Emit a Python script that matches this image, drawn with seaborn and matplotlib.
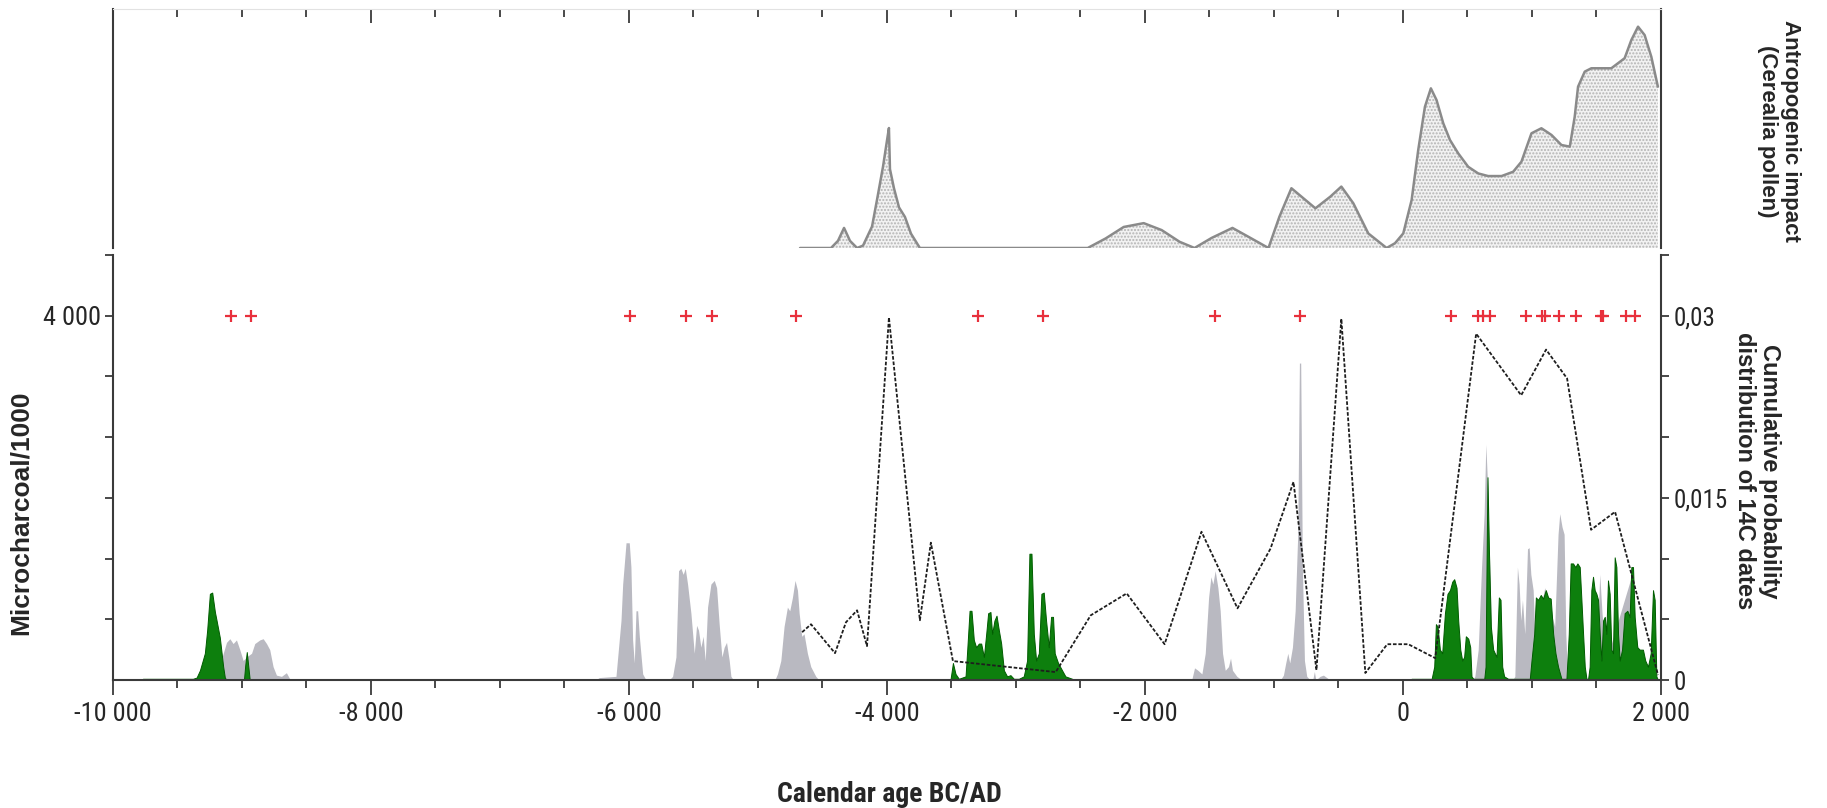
import matplotlib
matplotlib.use("Agg")
import matplotlib.pyplot as plt
from matplotlib import font_manager as fm
import seaborn as sns
from matplotlib.ticker import FixedLocator, MultipleLocator

# --- top panel: Cerealia pollen curve (relative units 0-100)
cereal_year = [-4674, -4434, -4380, -4333, -4287, -4232, -4186, -4116, -4078, -4031, -4000,
               -3985, -3977, -3946, -3907, -3861, -3814, -3745, -2444, -2305, -2165, -2010,
               -1871, -1732, -1616, -1484, -1322, -1182, -1043, -958, -865, -772, -679, -563,
               -478, -385, -269, -127, -62, 2, 67, 118, 170, 216, 260, 312, 364, 428, 505, 583,
               660, 764, 854, 918, 996, 1073, 1151, 1228, 1293, 1331, 1357, 1409, 1460, 1615,
               1718, 1770, 1822, 1873, 1925, 1976]
cereal_val = [0, 0, 3, 8.4, 3, 0, 1, 9, 20, 34, 45,
              50.2, 33, 25, 17, 13, 6, 0, 0, 4.0, 8.8, 10.4,
              7.5, 2.6, 0, 4.2, 8.4, 4.2, 0, 13.1, 25.0, 20.8, 16.6, 21.5,
              25.7, 18.7, 6.1, 0, 2.0, 6.1, 20.1, 41.0, 59.1, 66.8, 61.9, 52.2, 45.2, 39.6, 34.0, 31.2,
              30.1, 30.1, 31.9, 36.1, 48.0, 50.1, 47.3, 43.1, 42.4, 54.9, 67.5, 73.8, 75.2, 75.2,
              79.4, 87.0, 92.6, 89.1, 80.0, 67.5]

# --- bottom panel: 14C probability distributions (right axis)
gray_year = [-9200, -9185, -9120, -9094, -9069, -9043, -9017, -8991, -8965, -8926, -8901, -8862,
             -8836, -8810, -8785, -8759, -8733, -8694, -8656, -8630, -8604,
             -6260, -6230, -6101, -6062, -6049, -6023, -5998, -5985, -5972, -5959, -5946, -5933,
             -5920, -5894, -5868,
             -5690, -5662, -5636, -5616, -5598, -5580, -5564, -5546, -5520, -5494, -5476, -5461,
             -5443, -5425, -5409, -5391, -5365, -5339, -5321, -5301, -5280, -5262, -5244, -5223,
             -5210, -5190,
             -4870, -4849, -4823, -4798, -4772, -4754, -4733, -4713, -4694, -4681, -4661, -4643,
             -4617, -4591, -4552, -4527,
             -1660, -1636, -1616, -1590, -1559, -1533, -1507, -1489, -1474, -1456, -1435, -1417,
             -1399, -1378, -1353, -1337, -1322, -1288, -1249,
             -950, -927, -909, -893, -878, -857, -836, -816, -803, -793, -780, -764, -746, -720,
             -700, -687, -676, -643, -617, -578, -527,
             540, 557, 583, 609, 629, 642, 653, 666, 686, 712, 738, 760,
             850, 867, 887, 900, 913, 926, 944, 965, 978, 991, 1009, 1022, 1099, 1176, 1202,
             1215, 1233, 1249, 1262, 1275, 1290,
             1470, 1486, 1512, 1525, 1543, 1564, 1615, 1770, 1801, 1848, 1925, 1960]
gray_prob = [0, 0.0008, 0.0031, 0.0034, 0.0030, 0.0033, 0.0025, 0.0016, 0.0019, 0.0022, 0.0030, 0.0033,
             0.0034, 0.0030, 0.0025, 0.0011, 0.0004, 0.0003, 0.0006, 0.0001, 0,
             0, 0.0002, 0.0003, 0.0049, 0.0079, 0.0113, 0.0113, 0.0093, 0.0033, 0.0014, 0.0057, 0.0057,
             0.0036, 0.0005, 0,
             0, 0.0003, 0.0019, 0.0090, 0.0092, 0.0087, 0.0092, 0.0079, 0.0055, 0.0022, 0.0045, 0.0041,
             0.0027, 0.0036, 0.0016, 0.0060, 0.0079, 0.0082, 0.0076, 0.0046, 0.0019, 0.0027, 0.0031, 0.0016,
             0.0003, 0,
             0, 0.0005, 0.0016, 0.0044, 0.0060, 0.0057, 0.0068, 0.0082, 0.0074, 0.0055, 0.0036, 0.0038,
             0.0022, 0.0011, 0.0003, 0,
             0, 0.0001, 0.0010, 0.0008, 0.0005, 0.0022, 0.0068, 0.0085, 0.0079, 0.0090, 0.0076, 0.0057,
             0.0022, 0.0008, 0.0011, 0.0018, 0.0008, 0.0003, 0,
             0, 0.0004, 0.0014, 0.0022, 0.0014, 0.0027, 0.0057, 0.0120, 0.0261, 0.0261, 0.0093, 0.0016, 0.0003, 0,
             0, 0.0007, 0, 0.0003, 0.0004, 0.0001, 0,
             0, 0.0003, 0.0025, 0.0093, 0.0137, 0.0194, 0.0167, 0.0120, 0.0038, 0.0005, 0.0001, 0,
             0, 0.0003, 0.0093, 0.0079, 0.0049, 0.0066, 0.0038, 0.0108, 0.0109, 0.0087, 0.0074, 0.0038, 0.0076, 0.0044, 0.0120,
             0.0137, 0.0126, 0.0120, 0.0038, 0.0003, 0,
             0, 0.0011, 0.0050, 0.0087, 0.0055, 0.0030, 0.0030, 0.0085, 0.0040, 0.0010, 0.0005, 0]

green_year = [-9780, -9768, -9380, -9352, -9326, -9288, -9270, -9249, -9231, -9210, -9197, -9172,
              -9146, -9133, -9120, -8985, -8975, -8963, -8950, -8940,
              -3530, -3507, -3489, -3469, -3443, -3391, -3378, -3360, -3345, -3327, -3309, -3288,
              -3270, -3249, -3231, -3216, -3198, -3185, -3167, -3151, -3133, -3115, -3094, -3069,
              -3043, -3017, -2978, -2940, -2914, -2896, -2880, -2862, -2844, -2823, -2803, -2785,
              -2767, -2746, -2728, -2713, -2700, -2674, -2643, -2617, -2565, -2540,
              40, 67, 222, 242, 255, 268, 286, 304, 325, 345, 364, 382, 397, 415, 428, 444, 459,
              474, 487, 506, 521, 531, 545, 630, 640, 650, 655, 666, 681, 699, 725, 743, 756, 769,
              784, 815, 983, 996, 1017, 1030, 1047, 1068, 1086, 1107, 1125, 1145, 1164, 1182, 1202,
              1228, 1267, 1285, 1300, 1318, 1336, 1352, 1370, 1383, 1396, 1409, 1422, 1435, 1447,
              1460, 1473, 1486, 1499, 1512, 1525, 1538, 1551, 1564, 1576, 1589, 1602, 1615, 1628,
              1641, 1654, 1667, 1680, 1698, 1718, 1739, 1757, 1770, 1783, 1796, 1816, 1835, 1860,
              1878, 1899, 1920, 1938, 1951, 1964, 1977]
green_prob = [0, 0.0001, 0.0001, 0.0002, 0.0008, 0.0022, 0.0041, 0.0071, 0.0072, 0.0056, 0.0049, 0.0035,
              0.0011, 0.0002, 0, 0, 0.0012, 0.0023, 0.0010, 0,
              0, 0.0001, 0.0014, 0.0005, 0.0001, 0.0003, 0.0025, 0.0057, 0.0057, 0.0033, 0.0027, 0.0030,
              0.0030, 0.0019, 0.0038, 0.0055, 0.0056, 0.0038, 0.0049, 0.0053, 0.0041, 0.0030, 0.0008, 0.0003,
              0.0004, 0.0001, 0.0001, 0.0003, 0.0016, 0.0104, 0.0104, 0.0038, 0.0016, 0.0022, 0.0071, 0.0072,
              0.0049, 0.0027, 0.0052, 0.0052, 0.0022, 0.0014, 0.0008, 0.0003, 0.0001, 0,
              0, 0.0001, 0.0001, 0.0011, 0.0046, 0.0044, 0.0025, 0.0022, 0.0055, 0.0071, 0.0074, 0.0081, 0.0083, 0.0076, 0.0049, 0.0025, 0.0016,
              0.0019, 0.0036, 0.0034, 0.0027, 0.0003, 0.0001, 0.0001, 0.0011, 0.0120, 0.0167, 0.0107, 0.0044, 0.0025, 0.0019, 0.0068, 0.0066, 0.0011,
              0.0003, 0.0001, 0.0001, 0.0016, 0.0038, 0.0068, 0.0066, 0.0070, 0.0067, 0.0074, 0.0068, 0.0067, 0.0038, 0.0022, 0.0011,
              0.0001, 0.0001, 0.0038, 0.0096, 0.0096, 0.0093, 0.0096, 0.0093, 0.0066, 0.0038, 0.0011, 0.0001, 0.0001, 0.0011,
              0.0074, 0.0085, 0.0074, 0.0071, 0.0066, 0.0038, 0.0016, 0.0049, 0.0052, 0.0038, 0.0082, 0.0071, 0.0025, 0.0022,
              0.0101, 0.0093, 0.0038, 0.0016, 0.0025, 0.0055, 0.0057, 0.0052, 0.0093, 0.0093, 0.0052, 0.0027, 0.0025, 0.0025,
              0.0016, 0.0011, 0.0022, 0.0074, 0.0066, 0.0003, 0]

# --- microcharcoal (left axis)
charcoal_year = [-4658, -4589, -4403, -4318, -4232, -4155, -3985, -3745, -3660, -3489, -2692, -2421,
                 -2142, -1848, -1562, -1283, -1027, -849, -671, -478, -292, -122, 41, 250, 567, 916,
                 1109, 1272, 1458, 1644, 1977]
charcoal_val = [525, 612, 295, 634, 765, 372, 3980, 656, 1508, 208, 87, 710,
                951, 393, 1628, 787, 1443, 2175, 109, 3967, 77, 393, 393, 240, 3803, 3126,
                3628, 3311, 1650, 1847, 55]

# --- 14C dated samples (plotted at the 4000 line)
date_year = [-9086, -8932, -5990, -5556, -5355, -4705, -3296, -2792, -1461, -795, 374, 583, 622,
             676, 955, 1078, 1102, 1210, 1342, 1535, 1551, 1729, 1799]

x_major = [-10000, -8000, -6000, -4000, -2000, 0, 2000]
x_labels = ["-10 000", "-8 000", "-6 000", "-4 000", "-2 000", "0", "2 000"]
prob_ticks = [0, 0.005, 0.01, 0.015, 0.02, 0.025, 0.03, 0.035]
prob_labels = ["0", "", "", "0,015", "", "", "0,03", ""]
char_ticks = [666.67 * k for k in range(1, 8)]
char_labels = ["", "", "", "", "", "4 000", ""]

sns.set_style("white")
plt.rcParams["font.family"] = ["Liberation Sans", "DejaVu Sans"]
plt.rcParams["hatch.linewidth"] = 1.0

# pick a narrow face for the numbers if one is installed
entries = fm.fontManager.ttflist
names = {f.name for f in entries}
narrow_stretch = "normal"
narrow = None
for cand in ["Liberation Sans Narrow", "Arial Narrow", "Roboto Condensed", "Open Sans Condensed"]:
    if cand in names:
        narrow = cand
        break
if narrow is None:
    if any(f.name == "DejaVu Sans" and "condensed" in str(f.stretch) for f in entries):
        narrow, narrow_stretch = "DejaVu Sans", "condensed"
    elif "Roboto" in names:
        narrow = "Roboto"
    else:
        narrow = "DejaVu Sans"
num_font = dict(family=[narrow, "DejaVu Sans"], stretch=narrow_stretch)

W, H = 1827, 808
fig = plt.figure(figsize=(W / 100, H / 100), dpi=100)
fig.patch.set_facecolor("white")

L, R = 113 / W, 1661 / W
axt = fig.add_axes([L, 1 - 248 / H, R - L, (248 - 9) / H])
axp = fig.add_axes([L, 1 - 680 / H, R - L, (680 - 255) / H])

spine_col = "#3a3a3a"

# top panel
axt.fill_between(cereal_year, cereal_val, 0, facecolor="#f2f2f2", edgecolor="#b4b4b4",
                 hatch=".....", linewidth=0)
sns.lineplot(x=cereal_year, y=cereal_val, ax=axt, color="#8a8a8a", lw=1.8)
axt.set_xlim(-10000, 2000)
axt.set_ylim(0, 100)
axt.set_xlabel("")
axt.set_ylabel("")
axt.set_yticks([])
axt.xaxis.tick_top()
axt.xaxis.set_major_locator(FixedLocator(x_major))
axt.xaxis.set_minor_locator(MultipleLocator(500))
axt.tick_params(axis="x", which="major", direction="in", length=10, width=1.3, color=spine_col,
                labeltop=False, labelbottom=False)
axt.tick_params(axis="x", which="minor", direction="in", length=6, width=1.3, color=spine_col)
for s in ["left", "right"]:
    axt.spines[s].set_color(spine_col)
    axt.spines[s].set_linewidth(1.5)
axt.spines["top"].set_color("#e2e2e2")
axt.spines["bottom"].set_visible(False)

# bottom panel: probabilities
axp.fill_between(gray_year, gray_prob, 0, color="#b9b9c1", linewidth=0)
axp.fill_between(green_year, green_prob, 0, facecolor="#0d7f0d", edgecolor="#005c00", linewidth=0.7)
axp.set_xlim(-10000, 2000)
axp.set_ylim(0, 0.035)

# bottom panel: microcharcoal + dates on a twin axis
axc = axp.twinx()
sns.lineplot(x=charcoal_year, y=charcoal_val, ax=axc, color="#1e1e1e", lw=1.3,
             linestyle=(0, (2, 1)))
sns.scatterplot(x=date_year, y=[4000] * len(date_year), ax=axc, marker="+", s=80,
                color="#e8303c", linewidth=1.6)
axc.set_ylim(0, 4666.67)
axc.set_xlim(-10000, 2000)
axc.set_ylabel("")
axc.set_xlabel("")

# twinx moves the host ticks to the left: put them back
axp.yaxis.tick_right()
axp.set_yticks(prob_ticks)
axp.set_yticklabels(prob_labels, fontsize=18, **num_font)
axp.set_xticks(x_major)
axp.set_xticklabels(x_labels, fontsize=19, **num_font)
axp.xaxis.set_minor_locator(MultipleLocator(500))
axp.tick_params(axis="x", which="major", direction="out", length=11, width=1.3, color=spine_col,
                pad=5, bottom=True)
axp.tick_params(axis="x", which="minor", direction="out", length=6, width=1.3, color=spine_col,
                bottom=True)
axp.tick_params(axis="y", direction="out", length=6, width=1.3, color=spine_col, pad=3,
                right=True, left=False, labelright=True, labelleft=False)
for s in ["bottom", "right"]:
    axp.spines[s].set_color(spine_col)
    axp.spines[s].set_linewidth(1.5)
axp.spines["top"].set_visible(False)
axp.spines["left"].set_visible(False)

axc.yaxis.tick_left()
axc.set_yticks(char_ticks)
axc.set_yticklabels(char_labels, fontsize=19, **num_font)
axc.tick_params(axis="y", direction="out", length=6, width=1.3, color=spine_col, pad=3,
                left=True, right=False, labelleft=True, labelright=False)
for s in ["top", "right", "bottom"]:
    axc.spines[s].set_visible(False)
axc.spines["left"].set_color(spine_col)
axc.spines["left"].set_linewidth(1.5)

# labels
fig.text(889 / W, 1 - 795 / H, "Calendar age BC/AD", ha="center", va="center",
         fontsize=20, fontweight="bold", **num_font)
fig.text(21 / W, 1 - 513 / H, "Microcharcoal/1000", ha="center", va="center",
         rotation=90, fontsize=19, fontweight="bold")
fig.text(1757 / W, 1 - 471 / H, "Cumulative probability\ndistribution of 14C dates",
         ha="center", va="center", rotation=270, fontsize=17, fontweight="bold",
         linespacing=1.1)
fig.text(1779 / W, 1 - 131 / H, "Antropogenic impact\n(Cerealia pollen)",
         ha="center", va="center", rotation=270, fontsize=16, fontweight="bold",
         linespacing=1.1)

fig.savefig("out.png", dpi=100)
